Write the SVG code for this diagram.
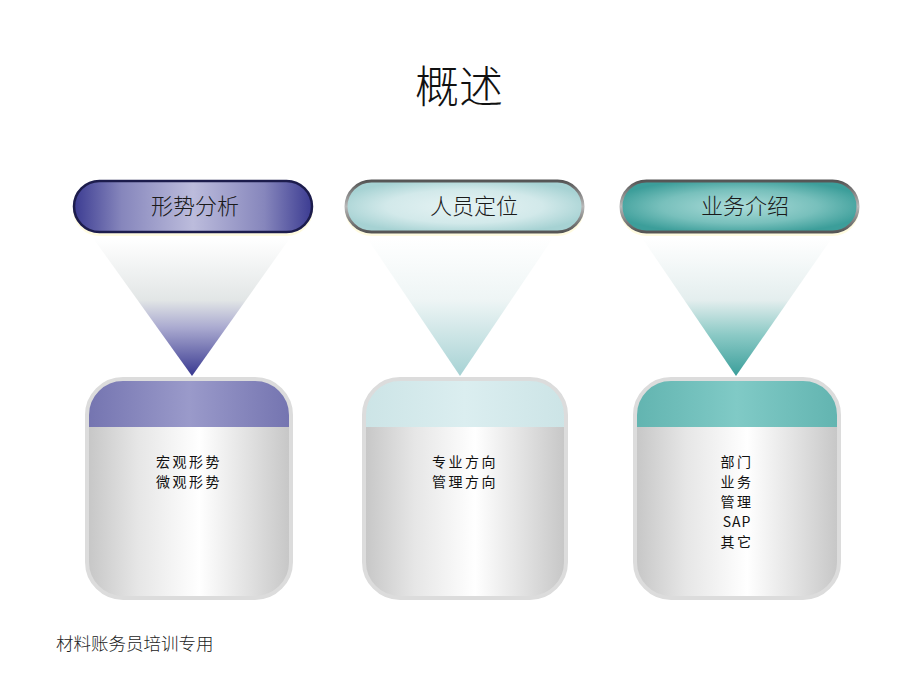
<svg xmlns="http://www.w3.org/2000/svg" width="920" height="690" viewBox="0 0 920 690">
<style>
text{font-family:"Noto Sans CJK SC","Liberation Sans",sans-serif;fill:#111;}
.title{font-size:44px;font-weight:300;}
.pill-label{font-size:22px;fill:#1a1a1a;font-weight:300;}
.box-label{font-size:14px;letter-spacing:2.5px;}
.footer{font-size:17.5px;fill:#222;font-weight:300;}
.box-outline{fill:none;stroke:#dcdcdc;stroke-width:4;}
</style>
<defs>
<linearGradient id="pill1" x1="0" y1="0" x2="1" y2="0">
<stop offset="0" stop-color="#3c3c92"/>
<stop offset="0.2" stop-color="#8686bc"/>
<stop offset="0.5" stop-color="#bcbcdc"/>
<stop offset="0.8" stop-color="#8686bc"/>
<stop offset="1" stop-color="#3c3c92"/>
</linearGradient>
<radialGradient id="pill2" cx="0.5" cy="0.5" r="0.55">
<stop offset="0" stop-color="#e6f3f4"/>
<stop offset="0.6" stop-color="#d2e9ea"/>
<stop offset="1" stop-color="#a6d2d3"/>
</radialGradient>
<radialGradient id="pill3" cx="0.5" cy="0.5" r="0.55">
<stop offset="0" stop-color="#acdcd9"/>
<stop offset="0.6" stop-color="#78c0bc"/>
<stop offset="1" stop-color="#3c9e9a"/>
</radialGradient>
<linearGradient id="pillStroke" x1="0" y1="0" x2="0" y2="1">
<stop offset="0" stop-color="#555"/>
<stop offset="0.5" stop-color="#b8b8b8"/>
<stop offset="1" stop-color="#555"/>
</linearGradient>
<linearGradient id="tri1" x1="0" y1="0" x2="0" y2="1">
<stop offset="0" stop-color="#ffffff"/>
<stop offset="0.45" stop-color="#e2e6e6"/>
<stop offset="0.65" stop-color="#aaaad0"/>
<stop offset="1" stop-color="#383890"/>
</linearGradient>
<linearGradient id="tri2" x1="0" y1="0" x2="0" y2="1">
<stop offset="0" stop-color="#ffffff"/>
<stop offset="0.45" stop-color="#eef5f5"/>
<stop offset="1" stop-color="#a6d2d4"/>
</linearGradient>
<linearGradient id="tri3" x1="0" y1="0" x2="0" y2="1">
<stop offset="0" stop-color="#ffffff"/>
<stop offset="0.45" stop-color="#e4eeee"/>
<stop offset="0.7" stop-color="#8ccac6"/>
<stop offset="1" stop-color="#3a9e9a"/>
</linearGradient>
<linearGradient id="boxBody" x1="0" y1="0" x2="1" y2="0">
<stop offset="0" stop-color="#c6c6c6"/>
<stop offset="0.25" stop-color="#e6e6e6"/>
<stop offset="0.55" stop-color="#ffffff"/>
<stop offset="0.8" stop-color="#e0e0e0"/>
<stop offset="1" stop-color="#c6c6c6"/>
</linearGradient>
<linearGradient id="band1" x1="0" y1="0" x2="1" y2="0">
<stop offset="0" stop-color="#7474b0"/>
<stop offset="0.5" stop-color="#9a9aca"/>
<stop offset="1" stop-color="#7474b0"/>
</linearGradient>
<linearGradient id="band2" x1="0" y1="0" x2="1" y2="0">
<stop offset="0" stop-color="#cce4e6"/>
<stop offset="0.5" stop-color="#dbeef0"/>
<stop offset="1" stop-color="#cce4e6"/>
</linearGradient>
<linearGradient id="band3" x1="0" y1="0" x2="1" y2="0">
<stop offset="0" stop-color="#62b4b0"/>
<stop offset="0.5" stop-color="#80cac6"/>
<stop offset="1" stop-color="#62b4b0"/>
</linearGradient>
<clipPath id="clip1"><rect x="87" y="379" width="204" height="219" rx="36"/></clipPath>
<clipPath id="clip2"><rect x="364" y="379" width="202" height="219" rx="36"/></clipPath>
<clipPath id="clip3"><rect x="635" y="379" width="204" height="219" rx="36"/></clipPath>
</defs>
<rect width="920" height="690" fill="#ffffff"/>
<text class="title" x="459" y="103" text-anchor="middle">概述</text>

<g id="header1">
<rect x="73" y="183" width="240" height="53" rx="26.5" fill="#fffbe0"/>
<rect x="74" y="181" width="238" height="51" rx="25.5" fill="url(#pill1)" stroke="#1c1c4c" stroke-width="2.5"/>
<text class="pill-label" x="195" y="214" text-anchor="middle">形势分析</text>
</g>
<g id="header2">
<rect x="345" y="183" width="239" height="53" rx="26.5" fill="#fffbe0"/>
<rect x="346" y="181" width="237" height="51" rx="25.5" fill="url(#pill2)" stroke="url(#pillStroke)" stroke-width="3"/>
<text class="pill-label" x="474" y="214" text-anchor="middle">人员定位</text>
</g>
<g id="header3">
<rect x="620" y="183" width="239" height="53" rx="26.5" fill="#fffbe0"/>
<rect x="621" y="181" width="237" height="51" rx="25.5" fill="url(#pill3)" stroke="url(#pillStroke)" stroke-width="3"/>
<text class="pill-label" x="745" y="214" text-anchor="middle">业务介绍</text>
</g>

<g id="funnel1"><polygon points="93,238 290,238 192,376" fill="url(#tri1)"/></g>
<g id="funnel2"><polygon points="367,238 553,238 460,376" fill="url(#tri2)"/></g>
<g id="funnel3"><polygon points="642,238 832,238 736,376" fill="url(#tri3)"/></g>

<g id="box1">
<rect x="87" y="379" width="204" height="219" rx="36" fill="url(#boxBody)"/>
<rect x="87" y="379" width="204" height="48" fill="url(#band1)" clip-path="url(#clip1)"/>
<rect class="box-outline" x="87" y="379" width="204" height="219" rx="36"/>
<text class="box-label" x="189" y="467" text-anchor="middle">宏观形势</text>
<text class="box-label" x="189" y="487" text-anchor="middle">微观形势</text>
</g>
<g id="box2">
<rect x="364" y="379" width="202" height="219" rx="36" fill="url(#boxBody)"/>
<rect x="364" y="379" width="202" height="48" fill="url(#band2)" clip-path="url(#clip2)"/>
<rect class="box-outline" x="364" y="379" width="202" height="219" rx="36"/>
<text class="box-label" x="465" y="467" text-anchor="middle">专业方向</text>
<text class="box-label" x="465" y="487" text-anchor="middle">管理方向</text>
</g>
<g id="box3">
<rect x="635" y="379" width="204" height="219" rx="36" fill="url(#boxBody)"/>
<rect x="635" y="379" width="204" height="48" fill="url(#band3)" clip-path="url(#clip3)"/>
<rect class="box-outline" x="635" y="379" width="204" height="219" rx="36"/>
<text class="box-label" x="737" y="467" text-anchor="middle">部门</text>
<text class="box-label" x="737" y="487" text-anchor="middle">业务</text>
<text class="box-label" x="737" y="507" text-anchor="middle">管理</text>
<text class="box-label" x="737" y="527" text-anchor="middle" style="letter-spacing:1px">SAP</text>
<text class="box-label" x="737" y="547" text-anchor="middle">其它</text>
</g>

<text class="footer" x="56" y="650">材料账务员培训专用</text>
</svg>
